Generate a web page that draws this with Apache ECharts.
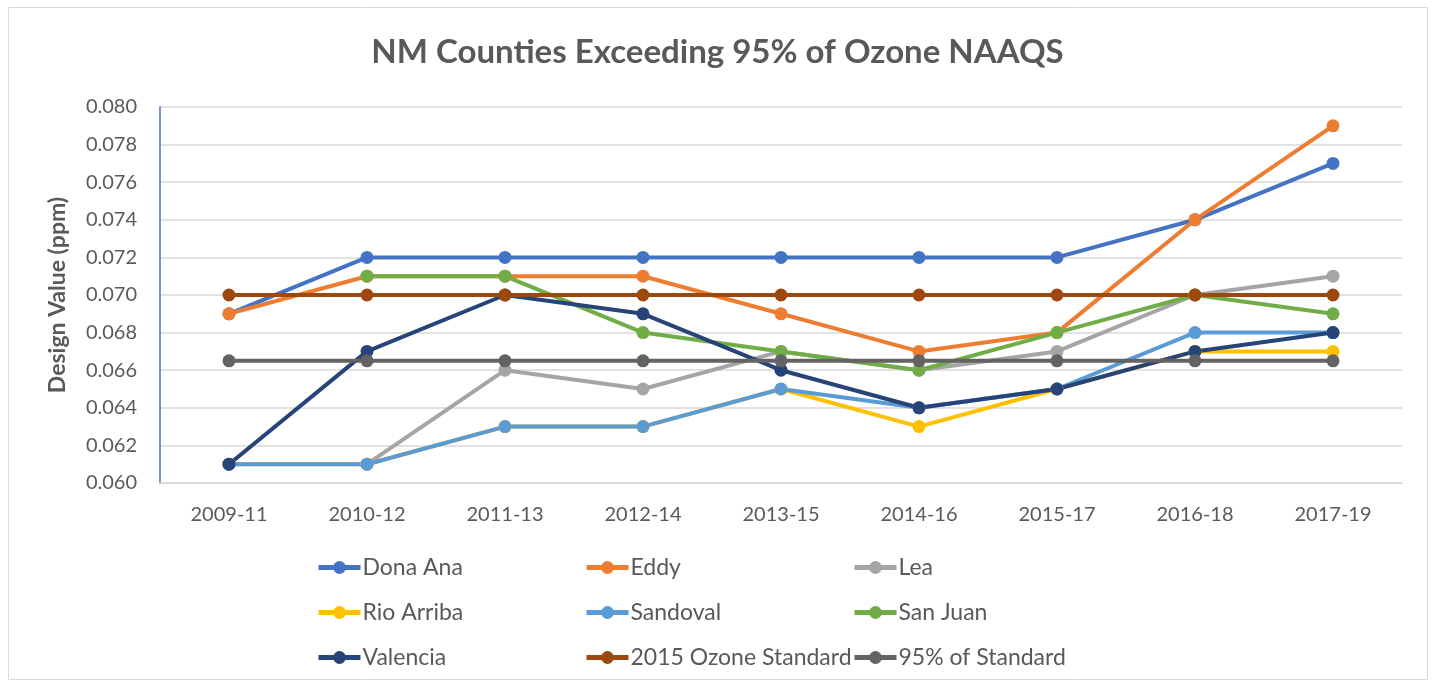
<!DOCTYPE html>
<html>
<head>
<meta charset="utf-8">
<script src="https://cdn.jsdelivr.net/npm/echarts@6/dist/echarts.min.js"></script>
<style>
  html, body { margin: 0; padding: 0; background: #fff; }
</style>
</head>
<body>
<div id="main" style="width:1435px;height:687px;"></div>
<script>
  var categories = ['2009-11', '2010-12', '2011-13', '2012-14', '2013-15', '2014-16', '2015-17', '2016-18', '2017-19'];

  var donaAna = [0.069, 0.072, 0.072, 0.072, 0.072, 0.072, 0.072, 0.074, 0.077];
  var eddy = [0.069, 0.071, 0.071, 0.071, 0.069, 0.067, 0.068, 0.074, 0.079];
  var lea = [null, 0.061, 0.066, 0.065, 0.067, 0.066, 0.067, 0.070, 0.071];
  var rioArriba = [0.061, 0.061, 0.063, 0.063, 0.065, 0.063, 0.065, 0.067, 0.067];
  var sandoval = [0.061, 0.061, 0.063, 0.063, 0.065, 0.064, 0.065, 0.068, 0.068];
  var sanJuan = [null, 0.071, 0.071, 0.068, 0.067, 0.066, 0.068, 0.070, 0.069];
  var valencia = [0.061, 0.067, 0.070, 0.069, 0.066, 0.064, 0.065, 0.067, 0.068];
  var ozoneStd = [0.070, 0.070, 0.070, 0.070, 0.070, 0.070, 0.070, 0.070, 0.070];
  var pctStd = [0.0665, 0.0665, 0.0665, 0.0665, 0.0665, 0.0665, 0.0665, 0.0665, 0.0665];

  var names = ['Dona Ana', 'Eddy', 'Lea', 'Rio Arriba', 'Sandoval', 'San Juan', 'Valencia', '2015 Ozone Standard', '95% of Standard'];
  var values = [donaAna, eddy, lea, rioArriba, sandoval, sanJuan, valencia, ozoneStd, pctStd];
  var colors = ['#4472C4', '#ED7D31', '#A5A5A5', '#FFC000', '#5B9BD5', '#70AD47', '#264478', '#9E480E', '#636363'];

  var font = 'Lato, "Open Sans", sans-serif';

  var series = names.map(function (n, i) {
    return {
      name: n,
      type: 'line',
      data: values[i],
      symbol: 'circle',
      symbolSize: 13,
      connectNulls: false,
      lineStyle: { width: 4, color: colors[i] },
      itemStyle: { color: colors[i] }
    };
  });

  // one legend per item so they sit in a 3x3 grid like the original
  var legends = names.map(function (n, i) {
    return {
      data: [n],
      left: 316 + (i % 3) * 268,
      top: 556 + Math.floor(i / 3) * 45,
      padding: 0,
      itemWidth: 42,
      itemHeight: 16,
      itemGap: 0,
      lineStyle: { width: 5 },
      textStyle: { fontFamily: font, fontSize: 23, color: '#595959', padding: [0, 0, 0, -3] },
      selectedMode: false
    };
  });

  var chart = echarts.init(document.getElementById('main'));
  chart.setOption({
    animation: false,
    color: colors,
    title: {
      text: 'NM Counties Exceeding 95% of Ozone NAAQS',
      left: 'center',
      top: 31,
      textStyle: { fontFamily: font, fontSize: 33, fontWeight: 'bold', color: '#595959' }
    },
    graphic: [{
      type: 'rect',
      shape: { x: 8.5, y: 7.5, width: 1419, height: 672 },
      style: { fill: null, stroke: '#d9d9d9', lineWidth: 1 },
      silent: true
    }],
    legend: legends,
    grid: { left: 160, right: 33, top: 107, bottom: 204 },
    xAxis: {
      type: 'category',
      data: categories,
      boundaryGap: true,
      axisLine: { lineStyle: { color: '#d9d9d9', width: 1.5 } },
      axisTick: { show: false },
      axisLabel: { fontFamily: font, fontSize: 20, color: '#595959', margin: 22 }
    },
    yAxis: {
      type: 'value',
      min: 0.060,
      max: 0.080,
      interval: 0.002,
      name: 'Design Value (ppm)',
      nameLocation: 'middle',
      nameGap: 91,
      nameTextStyle: { fontFamily: font, fontSize: 23, fontWeight: 'bold', color: '#595959' },
      axisLine: { show: true, lineStyle: { color: '#4472C4', width: 1.5 } },
      axisTick: { show: false },
      splitLine: { lineStyle: { color: '#d9d9d9', width: 1.5 } },
      axisLabel: {
        fontFamily: font, fontSize: 20, color: '#595959', margin: 23,
        formatter: function (v) { return v.toFixed(3); }
      }
    },
    series: series
  });
</script>
</body>
</html>
